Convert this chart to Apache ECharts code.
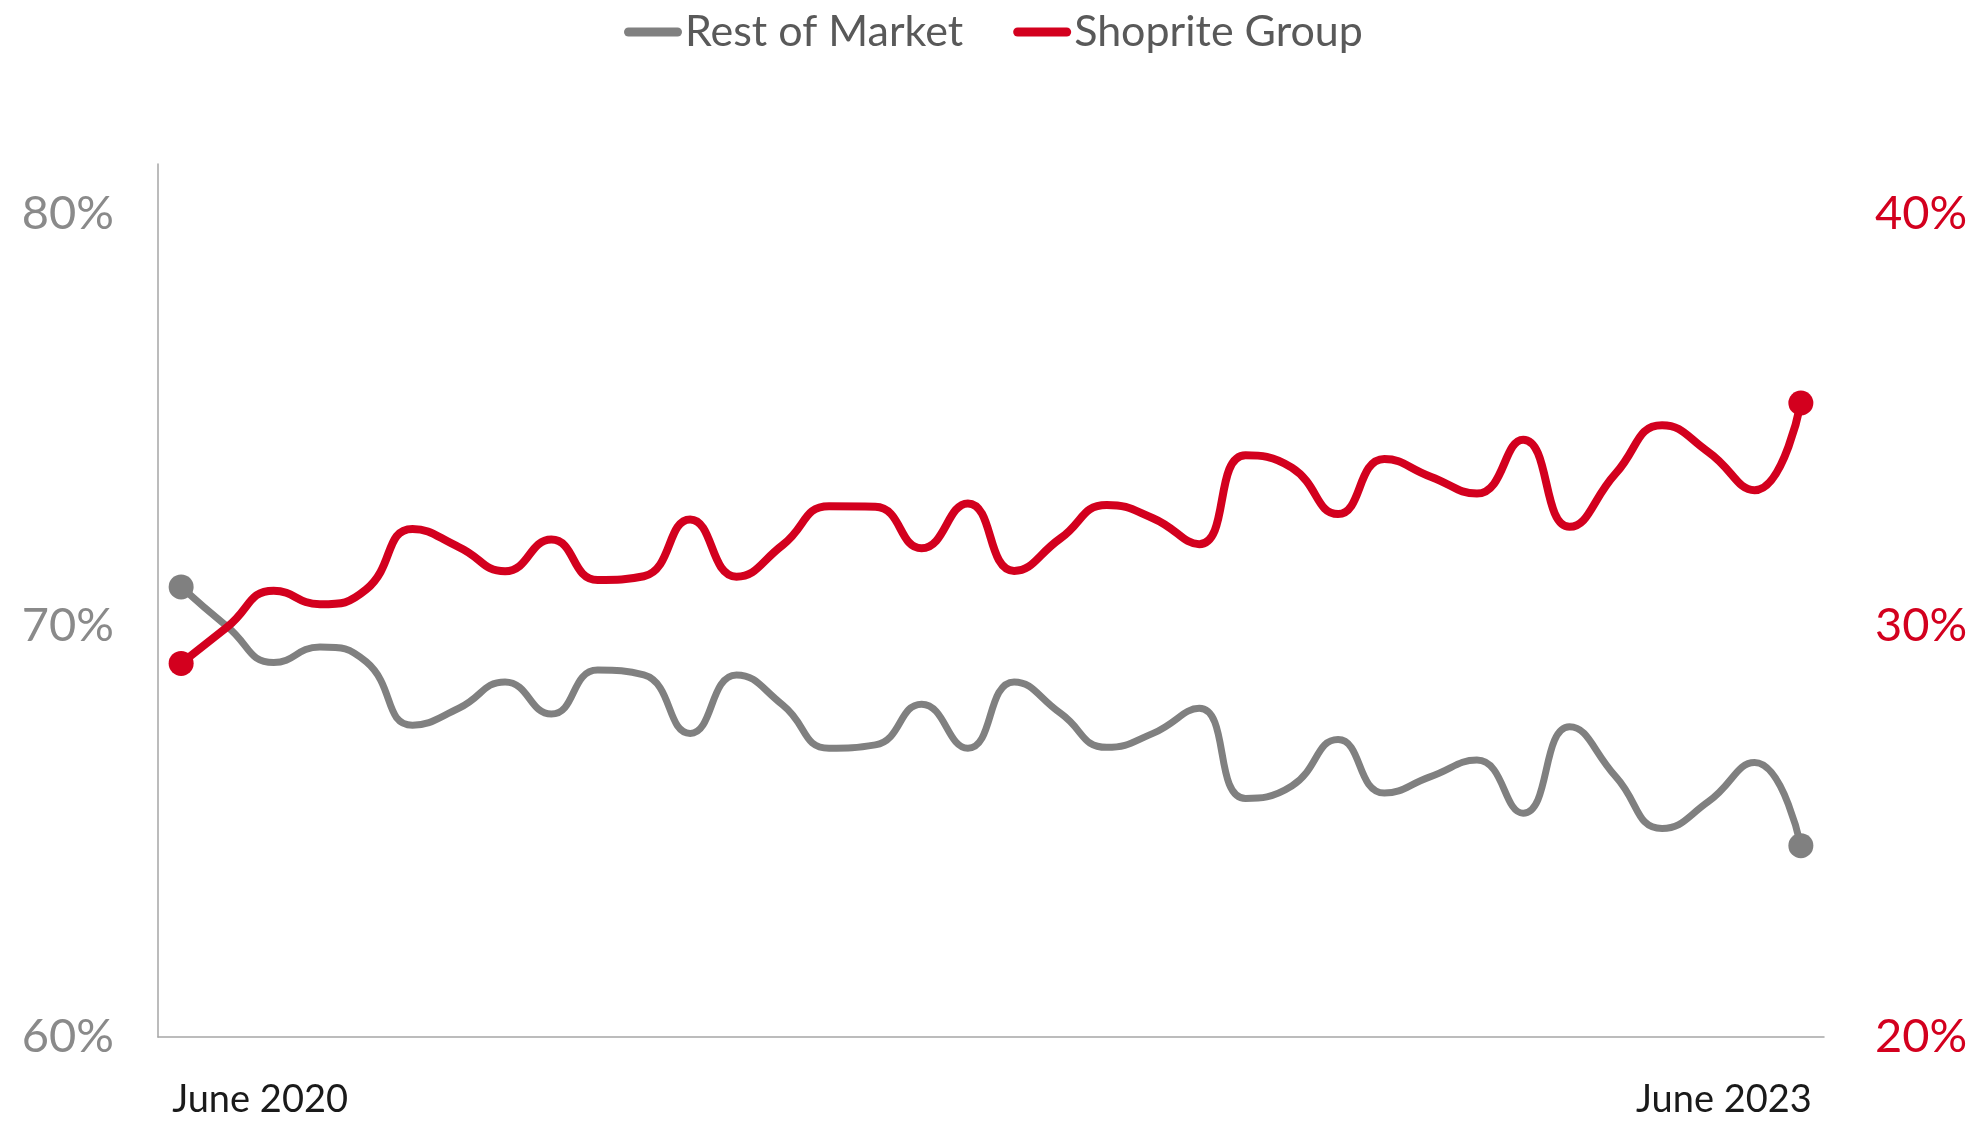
<!DOCTYPE html>
<html>
<head>
<meta charset="utf-8">
<script src="https://cdn.jsdelivr.net/npm/echarts@6/dist/echarts.min.js"></script>
<style>
html,body{margin:0;padding:0;background:#fff;}
#chart{width:1978px;height:1125px;}
</style>
</head>
<body>
<div id="chart"></div>
<script>
const categories = ['June 2020','P2','P3','P4','P5','P6','P7','P8','P9','P10','P11','P12','P13','P14','P15','P16','P17','P18','P19','P20','P21','P22','P23','P24','P25','P26','P27','P28','P29','P30','P31','P32','P33','P34','P35','June 2023'];
const restOfMarket = [70.94, 69.97, 69.10, 69.48, 69.12, 67.58, 67.99, 68.63, 67.85, 68.92, 68.80, 67.38, 68.80, 68.07, 67.02, 67.10, 68.09, 67.02, 68.63, 67.87, 67.04, 67.38, 67.99, 65.80, 66.10, 67.23, 65.93, 66.33, 66.73, 65.44, 67.54, 66.33, 65.07, 65.72, 66.67, 64.65];
const shopriteGroup = [29.08, 29.97, 30.85, 30.52, 30.88, 32.35, 31.91, 31.32, 32.09, 31.11, 31.20, 32.58, 31.19, 31.96, 32.90, 32.89, 31.88, 32.97, 31.33, 32.12, 32.93, 32.61, 31.98, 34.14, 33.84, 32.71, 34.05, 33.62, 33.21, 34.52, 32.40, 33.70, 34.87, 34.22, 33.29, 35.41];
const leftTicks = [60, 70, 80];
const rightTicks = [20, 30, 40];

const GREY = '#808080';
const RED = '#d3001e';
const FONT = 'Lato';

const chart = echarts.init(document.getElementById('chart'), null, {renderer: 'canvas'});
const last = categories.length - 1;
const endSymbol = (v, p) => (p.dataIndex === 0 || p.dataIndex === last) ? 25 : 0;
const capsule = 'path://M4.5,0 H53.5 A4.5,4.5 0 0 1 53.5,9 H4.5 A4.5,4.5 0 0 1 4.5,0 Z';

chart.setOption({
  animation: false,
  backgroundColor: '#ffffff',
  legend: {
    left: 619,
    top: 2,
    itemWidth: 58,
    itemHeight: 9,
    itemGap: 50,
    textStyle: {fontFamily: FONT, fontSize: 43, color: '#595959', lineHeight: 50, padding: [0,0,0,-2]},
    data: [
      {name: 'Rest of Market', icon: capsule, itemStyle: {color: GREY}},
      {name: 'Shoprite Group', icon: capsule, itemStyle: {color: RED}}
    ]
  },
  grid: {left: 158, right: 154, top: 164, bottom: 88, containLabel: false},
  xAxis: {
    type: 'category',
    data: categories,
    boundaryGap: true,
    axisLine: {show: true, lineStyle: {color: '#a6a6a6', width: 1.5}},
    axisTick: {show: false},
    splitLine: {show: false},
    axisLabel: {
      interval: (idx) => idx === 0 || idx === last,
      formatter: (v, idx) => (idx === 0 || idx === last) ? v : '',
      hideOverlap: false,
      alignMinLabel: 'left',
      alignMaxLabel: 'right',
      padding: [0, -11, 0, -9],
      margin: 44,
      fontFamily: FONT,
      fontSize: 38,
      lineHeight: 38,
      color: '#1a1a1a'
    }
  },
  yAxis: [
    {
      type: 'value',
      position: 'left',
      min: 60, max: 81.22, interval: 10,
      axisLine: {show: true, lineStyle: {color: '#a6a6a6', width: 1.5}},
      axisTick: {show: false},
      splitLine: {show: false},
      axisLabel: {
        formatter: (v) => leftTicks.includes(Math.round(v)) && Math.abs(v - Math.round(v)) < 1e-6 ? Math.round(v) + '%' : '',
        margin: 44,
        fontFamily: FONT, fontWeight: 'normal', fontSize: 47, color: '#8a8a8a'
      }
    },
    {
      type: 'value',
      position: 'right',
      min: 20, max: 41.22, interval: 10,
      axisLine: {show: false},
      axisTick: {show: false},
      splitLine: {show: false},
      axisLabel: {
        formatter: (v) => rightTicks.includes(Math.round(v)) && Math.abs(v - Math.round(v)) < 1e-6 ? Math.round(v) + '%' : '',
        margin: 51,
        fontFamily: FONT, fontWeight: 'normal', fontSize: 47, color: RED
      }
    }
  ],
  series: [
    {
      name: 'Rest of Market',
      type: 'line',
      yAxisIndex: 0,
      data: restOfMarket,
      smooth: 0.5,
      symbol: 'circle',
      symbolSize: endSymbol,
      showSymbol: true,
      showAllSymbol: true,
      lineStyle: {color: GREY, width: 7, cap: 'round', join: 'round'},
      itemStyle: {color: GREY},
      emphasis: {disabled: true}
    },
    {
      name: 'Shoprite Group',
      type: 'line',
      yAxisIndex: 1,
      data: shopriteGroup,
      smooth: 0.5,
      symbol: 'circle',
      symbolSize: endSymbol,
      showSymbol: true,
      showAllSymbol: true,
      lineStyle: {color: RED, width: 8, cap: 'round', join: 'round'},
      itemStyle: {color: RED},
      emphasis: {disabled: true}
    }
  ]
});
</script>
</body>
</html>
